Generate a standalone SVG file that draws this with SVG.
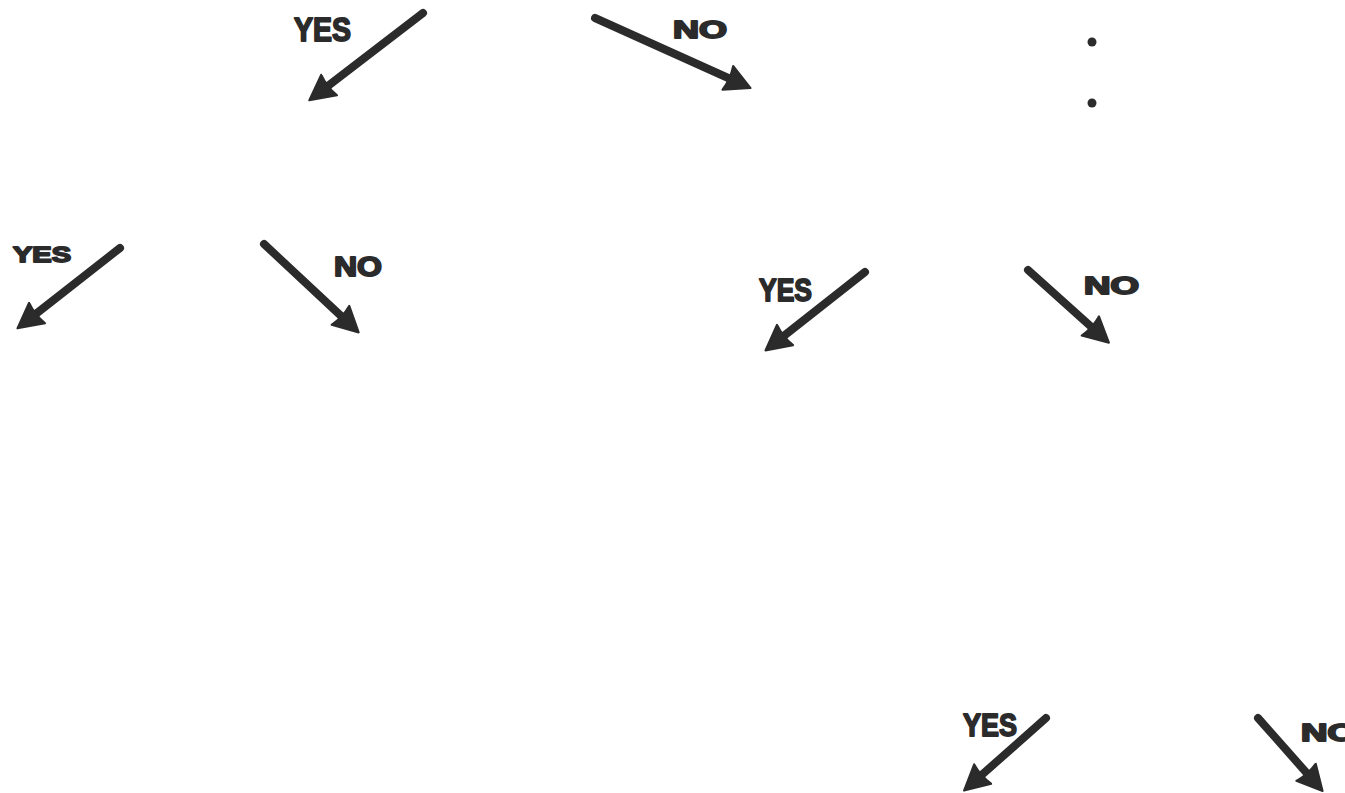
<svg xmlns="http://www.w3.org/2000/svg" width="1345" height="793" viewBox="0 0 1345 793">
<style>
.bg{fill:#ffffff}
.arr{stroke:#2b2b2b;stroke-width:8;stroke-linecap:round;fill:none;marker-end:url(#head)}
.lbl{font-family:"Liberation Sans",Arial,sans-serif;font-weight:bold;fill:#2b2b2b;stroke:#2b2b2b;stroke-width:1.8;stroke-linejoin:round}
.dot{fill:#2b2b2b}
</style>
<defs>
<marker id="head" viewBox="0 0 28 30" markerWidth="28" markerHeight="30" refX="10" refY="15" orient="auto" markerUnits="userSpaceOnUse">
<path d="M1,2 L26,15 L1,28 Q4,15 1,2 z" fill="#2b2b2b" stroke="#2b2b2b" stroke-width="2" stroke-linejoin="round"/>
</marker>
</defs>
<rect class="bg" x="0" y="0" width="1345" height="793"/>
<g id="connectors">
<line class="arr" x1="423" y1="13" x2="322" y2="90.5"/>
<line class="arr" x1="595" y1="18" x2="736" y2="81.5"/>
<line class="arr" x1="120" y1="248" x2="30" y2="318.5"/>
<line class="arr" x1="264" y1="244" x2="347" y2="321.5"/>
<line class="arr" x1="865" y1="272" x2="778" y2="340.5"/>
<line class="arr" x1="1028" y1="270" x2="1097" y2="332"/>
<line class="arr" x1="1046" y1="718" x2="976" y2="780"/>
<line class="arr" x1="1258" y1="718" x2="1312" y2="779"/>
</g>
<g id="label-yes-1"><text class="lbl" x="294" y="41" font-size="33" textLength="57" lengthAdjust="spacingAndGlyphs">YES</text></g>
<g id="label-no-1"><text class="lbl" x="673" y="38" font-size="24" textLength="54" lengthAdjust="spacingAndGlyphs">NO</text></g>
<g id="label-yes-2"><text class="lbl" x="13" y="262" font-size="22" textLength="58" lengthAdjust="spacingAndGlyphs">YES</text></g>
<g id="label-no-2"><text class="lbl" x="334" y="276" font-size="27" textLength="48" lengthAdjust="spacingAndGlyphs">NO</text></g>
<g id="label-yes-3"><text class="lbl" x="759" y="301" font-size="32" textLength="53" lengthAdjust="spacingAndGlyphs">YES</text></g>
<g id="label-no-3"><text class="lbl" x="1084" y="294" font-size="23" textLength="55" lengthAdjust="spacingAndGlyphs">NO</text></g>
<g id="label-yes-4"><text class="lbl" x="963" y="736" font-size="32" textLength="54" lengthAdjust="spacingAndGlyphs">YES</text></g>
<g id="label-no-4"><text class="lbl" x="1301" y="741" font-size="23" textLength="55" lengthAdjust="spacingAndGlyphs">NO</text></g>
<g id="ellipsis">
<circle class="dot" cx="1092" cy="42" r="4.5"/>
<circle class="dot" cx="1092" cy="103" r="4.5"/>
</g>
</svg>
